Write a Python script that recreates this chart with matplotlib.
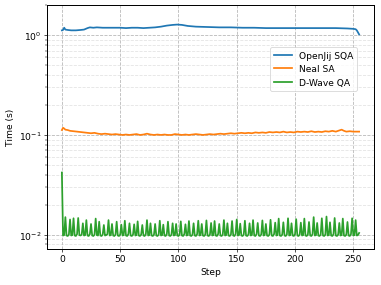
import matplotlib
matplotlib.use("Agg")
import matplotlib.pyplot as plt
import numpy as np

labels = ["OpenJij SQA", "Neal SA", "D-Wave QA"]

sqa_steps = [0, 1, 2, 3, 5, 8, 12, 16, 19, 22, 24, 27, 30, 35, 40, 45, 50, 55, 60, 65,
             70, 75, 80, 85, 90, 95, 99, 103, 108, 115, 125, 135, 145, 155, 165, 175,
             185, 195, 205, 215, 225, 235, 245, 250, 252, 253, 254, 255]
sqa_time = [1.12, 1.13, 1.19, 1.14, 1.13, 1.12, 1.12, 1.13, 1.14, 1.18, 1.20, 1.19, 1.20,
            1.19, 1.19, 1.19, 1.19, 1.18, 1.19, 1.19, 1.18, 1.19, 1.20, 1.22, 1.25, 1.27,
            1.28, 1.27, 1.24, 1.22, 1.21, 1.20, 1.20, 1.19, 1.19, 1.18, 1.18, 1.18, 1.18,
            1.18, 1.18, 1.18, 1.17, 1.16, 1.15, 1.12, 1.07, 1.02]

sa_steps = [0, 1, 2, 3, 5, 7, 10, 13, 16, 19, 22, 25, 28, 31, 34, 37, 40, 43, 46, 49,
            52, 55, 58, 61, 64, 67, 70, 73, 76, 79, 82, 85, 88, 91, 94, 97, 100, 103,
            106, 109, 112, 115, 118, 121, 124, 127, 130, 133, 136, 139, 142, 145, 148,
            151, 154, 157, 160, 163, 166, 169, 172, 175, 178, 181, 184, 187, 190, 193,
            196, 199, 202, 205, 208, 211, 214, 217, 220, 223, 226, 229, 232, 235, 238,
            240, 242, 244, 247, 250, 253, 255]
sa_time = [0.112, 0.118, 0.116, 0.113, 0.112, 0.110, 0.109, 0.108, 0.107, 0.106, 0.105,
           0.104, 0.105, 0.103, 0.102, 0.103, 0.102, 0.101, 0.102, 0.101, 0.100, 0.101,
           0.100, 0.101, 0.102, 0.100, 0.101, 0.103, 0.101, 0.100, 0.101, 0.100, 0.101,
           0.100, 0.100, 0.102, 0.101, 0.100, 0.101, 0.100, 0.101, 0.102, 0.101, 0.100,
           0.101, 0.102, 0.101, 0.102, 0.103, 0.102, 0.103, 0.104, 0.103, 0.104, 0.105,
           0.104, 0.105, 0.104, 0.106, 0.105, 0.106, 0.105, 0.107, 0.106, 0.107, 0.106,
           0.108, 0.106, 0.107, 0.106, 0.108, 0.107, 0.108, 0.107, 0.109, 0.107, 0.108,
           0.107, 0.109, 0.108, 0.110, 0.108, 0.111, 0.113, 0.110, 0.108, 0.109, 0.108,
           0.108, 0.108]

# one value per step, 0..255
qa_time = [
    0.0420, 0.0098, 0.0099, 0.0150, 0.0098, 0.0097, 0.0100, 0.0142, 0.0098, 0.0099, 0.0146, 0.0098, 0.0097, 0.0101, 0.0147, 0.0099,
    0.0098, 0.0100, 0.0130, 0.0098, 0.0099, 0.0140, 0.0098, 0.0097, 0.0101, 0.0128, 0.0098, 0.0097, 0.0100, 0.0145, 0.0099, 0.0098,
    0.0135, 0.0098, 0.0097, 0.0100, 0.0125, 0.0098, 0.0099, 0.0101, 0.0140, 0.0098, 0.0099, 0.0128, 0.0098, 0.0097, 0.0100, 0.0135,
    0.0098, 0.0097, 0.0100, 0.0126, 0.0098, 0.0099, 0.0138, 0.0098, 0.0097, 0.0101, 0.0130, 0.0098, 0.0097, 0.0100, 0.0127, 0.0098,
    0.0099, 0.0136, 0.0098, 0.0097, 0.0100, 0.0125, 0.0098, 0.0097, 0.0101, 0.0140, 0.0098, 0.0099, 0.0130, 0.0098, 0.0097, 0.0100,
    0.0128, 0.0098, 0.0097, 0.0100, 0.0138, 0.0098, 0.0099, 0.0126, 0.0098, 0.0097, 0.0101, 0.0135, 0.0098, 0.0097, 0.0100, 0.0130,
    0.0098, 0.0099, 0.0128, 0.0098, 0.0097, 0.0100, 0.0136, 0.0098, 0.0097, 0.0101, 0.0127, 0.0098, 0.0099, 0.0137, 0.0098, 0.0097,
    0.0100, 0.0130, 0.0098, 0.0097, 0.0101, 0.0138, 0.0098, 0.0099, 0.0128, 0.0098, 0.0097, 0.0100, 0.0139, 0.0098, 0.0097, 0.0100,
    0.0131, 0.0098, 0.0099, 0.0137, 0.0098, 0.0097, 0.0101, 0.0128, 0.0098, 0.0097, 0.0100, 0.0140, 0.0098, 0.0099, 0.0130, 0.0098,
    0.0097, 0.0100, 0.0137, 0.0098, 0.0097, 0.0101, 0.0142, 0.0098, 0.0099, 0.0129, 0.0098, 0.0097, 0.0100, 0.0138, 0.0098, 0.0097,
    0.0100, 0.0130, 0.0098, 0.0099, 0.0140, 0.0098, 0.0097, 0.0101, 0.0131, 0.0098, 0.0097, 0.0100, 0.0139, 0.0098, 0.0099, 0.0128,
    0.0098, 0.0097, 0.0100, 0.0141, 0.0098, 0.0097, 0.0101, 0.0132, 0.0098, 0.0099, 0.0145, 0.0098, 0.0097, 0.0100, 0.0133, 0.0098,
    0.0097, 0.0100, 0.0146, 0.0098, 0.0099, 0.0130, 0.0098, 0.0097, 0.0101, 0.0143, 0.0098, 0.0097, 0.0100, 0.0132, 0.0098, 0.0099,
    0.0145, 0.0098, 0.0097, 0.0100, 0.0134, 0.0098, 0.0097, 0.0101, 0.0150, 0.0098, 0.0099, 0.0131, 0.0098, 0.0097, 0.0100, 0.0146,
    0.0098, 0.0097, 0.0100, 0.0152, 0.0098, 0.0099, 0.0133, 0.0098, 0.0097, 0.0101, 0.0147, 0.0098, 0.0097, 0.0100, 0.0131, 0.0098,
    0.0099, 0.0145, 0.0098, 0.0097, 0.0100, 0.0134, 0.0098, 0.0097, 0.0101, 0.0146, 0.0098, 0.0099, 0.0140, 0.0098, 0.0099, 0.0104,
]

plt.rcParams["font.size"] = 11

fig = plt.figure(figsize=(6.4, 4.8), dpi=381 / 6.4)
ax = fig.add_axes([0.1234, 0.1264, 0.8582, 0.8526])

ax.plot(sqa_steps, sqa_time, color="tab:blue", lw=2.1, label=labels[0])
ax.plot(sa_steps, sa_time, color="tab:orange", lw=2.1, label=labels[1])
ax.plot(np.arange(len(qa_time)), qa_time, color="tab:green", lw=2.1, label=labels[2])

ax.set_yscale("log")
ax.set_xlim(-12.75, 267.75)
ax.set_ylim(0.0072, 2.0)
ax.set_xlabel("Step")
ax.set_ylabel("Time (s)")

ax.grid(True, which="major", ls="--", lw=1.0, alpha=0.9)
ax.grid(True, which="minor", ls="--", lw=1.0, alpha=0.35)
for s in ax.spines.values():
    s.set_linewidth(1.2)

ax.legend(loc="upper left", bbox_to_anchor=(0.682, 0.827), borderaxespad=0)

fig.savefig("out.png", dpi=381 / 6.4)
